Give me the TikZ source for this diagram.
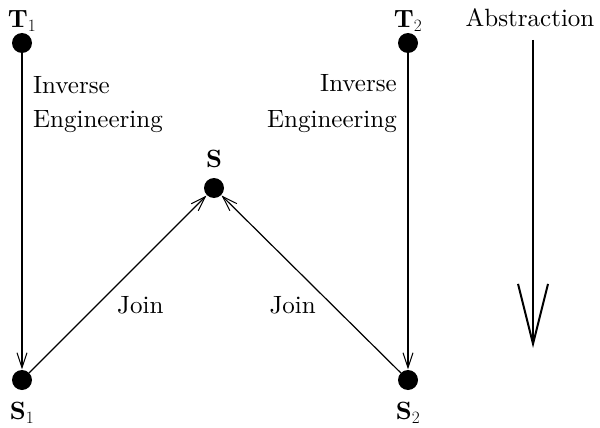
\documentclass[tikz,border=0pt]{standalone}
\usepackage{amsmath,amssymb}
\usepackage{fontspec}
\setmainfont{lmroman10-regular.otf}[BoldFont=lmroman10-bold.otf]
\usetikzlibrary{positioning,arrows.meta}

\begin{document}
\begin{tikzpicture}[x=1pt, y=-1pt,
  every node/.style={font=\fontsize{25}{30}\selectfont, inner sep=0pt},
  dot/.style={circle, fill, inner sep=0pt, minimum size=20pt},
  arr/.style={line width=1.2pt, -{Straight Barb[length=15pt, width=10pt, line width=1pt]}, shorten >=0.5pt},
  bigarr/.style={line width=2pt, -{Straight Barb[length=60pt, width=30pt, line width=2pt]}}]
\useasboundingbox (0,0) rectangle (600,428);
\node (T1) [dot] at (22,43) {};
\node (T2) [dot] at (408,43) {};
\node (S) [dot] at (214,188) {};
\node (S1) [dot] at (22,380) {};
\node (S2) [dot] at (408,380) {};
\node (T1lab) [above=1pt of T1] {$\mathbf{T}_1$};
\node (T2lab) [above=1pt of T2] {$\mathbf{T}_2$};
\node (Slab) [above=10pt of S] {$\mathbf{S}$};
\node (S1lab) [below=12pt of S1] {$\mathbf{S}_1$};
\node (S2lab) [below=12pt of S2] {$\mathbf{S}_2$};
\node (inv1) [anchor=base west] at (33,93) {Inverse};
\node (eng1) [anchor=base west] at (33,128) {Engineering};
\node (inv2) [anchor=base east] at (397,92) {Inverse};
\node (eng2) [anchor=base east] at (397,127) {Engineering};
\node (join1) [anchor=base west] at (117,313) {Join};
\node (join2) [anchor=base east] at (316,313) {Join};
\node (abs) [anchor=base] at (530,27) {Abstraction};
\coordinate (abstop) at (533,40);
\coordinate (absbot) at (533,348);
\draw[arr] (T1) -- (S1);
\draw[arr] (T2) -- (S2);
\draw[arr] (S1) -- (S);
\draw[arr] (S2) -- (S);
\draw[bigarr] (abstop) -- (absbot);
\end{tikzpicture}
\end{document}
